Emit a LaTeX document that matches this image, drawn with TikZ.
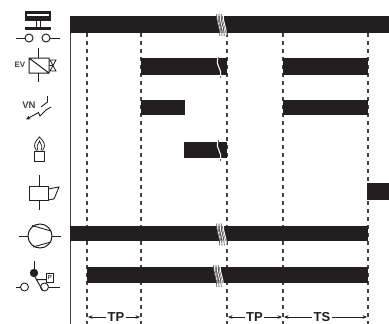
\documentclass[tikz,border=0pt]{standalone}
\usepackage{fontspec}
\setmainfont{Liberation Sans}
\usetikzlibrary{arrows.meta}
\definecolor{ink}{HTML}{231F20}
\tikzset{
  x=1pt,y=-1pt,
  icon/.style={draw=ink,line width=1pt},
  thick line/.style={draw=ink!85,line width=1.4pt},
  timing/.style={draw=ink!85,line width=1.2pt,dash pattern=on 4pt off 4pt},
  bar/.style={fill=ink,draw=none},
  lab/.style={font=\bfseries\fontsize{13}{13}\selectfont,text=ink,inner sep=0pt},
  small/.style={font=\bfseries\fontsize{8}{9}\selectfont,text=ink!85,inner sep=0pt},
  span/.style={draw=ink,line width=0.9pt,-{Stealth[length=4.5pt,width=3.6pt]}}
}
\begin{document}
\begin{tikzpicture}
\useasboundingbox (0,0) rectangle (389,324);
% timing lines
\draw[thick line] (70.5,16) -- (70.5,324);
\foreach \x in {87,141,227,283,368} \draw[timing] (\x,33) -- (\x,324);
% bars
\fill[bar] (70,16) rectangle (389,33);
\fill[bar] (141,58) rectangle (227,75);
\fill[bar] (283,58) rectangle (368,75);
\fill[bar] (141,100) rectangle (185,115);
\fill[bar] (283,100) rectangle (368,115);
\fill[bar] (184,142) rectangle (227,158);
\fill[bar] (367,183) rectangle (389,200);
\fill[bar] (70,226) rectangle (368,241);
\fill[bar] (87,267) rectangle (368,283);
% multi-line breaks
\foreach \cx/\cy in {216.5/14,216.5/223.5,213.5/265}{
  \foreach \d in {0,1.5,3,4.5,6}
    \draw[white,line width=1pt] (\cx+\d+.75,\cy+1) .. controls +(0,10) and +(0,-10) .. +(3,20);
  \foreach \d in {0,2.25,4.5}
    \draw[ink!80,line width=0.7pt] (\cx+\d+.2,\cy) .. controls +(0,11) and +(0,-11) .. +(3,22);
}
% single breaks
\foreach \cx/\cy in {218/57,218/140}{
  \draw[white,line width=1.1pt] (\cx,\cy+1) .. controls +(-3,9) and +(3,-9) .. +(2,19);
  \draw[ink!70,line width=0.5pt] (\cx,\cy-.5) -- +(0,2) (\cx+2,\cy+18.5) -- +(0,2);
}
% door / contact icon
\fill[ink] (25,11) rectangle (51,21);
\fill[white] (27,13.5) rectangle (49,15.5);
\draw[icon] (36,21) -- (36,27) (40,21) -- (40,27);
\fill[ink] (25,27) rectangle (51,30);
\draw[icon] (29,38) circle (4) (46,38) circle (4);
\draw[icon] (16,38) -- (25,38) (50,38) -- (60,38);
% EV
\draw[icon] (38,48) -- (38,58) (38,73) -- (38,82);
\draw[icon] (29,58) rectangle (49,73) (29,58) -- (49,73);
\draw[icon,line width=.8pt] (49,65.5) -- (53,65.5) (50,60) -- (56,60) -- (50,71) -- (56,71) -- cycle;
\node[small] (ev) at (20,65) {EV};
% VN
\node[small,font=\bfseries\fontsize{9.5}{10}\selectfont] (vn) at (29,105) {VN};
\draw[icon,line width=.9pt] (47.5,96) -- (47.5,102) -- (41,107);
\draw[icon,line width=.9pt,-{Stealth[length=4.5pt,width=4pt]}] (51,107) -- (46,110) -- (40,116) -- (38.5,112.5) -- (26,119.5);
% candle
\draw[icon,line width=.9pt] (34.5,151) rectangle (44.5,161);
\draw[icon,line width=.8pt] (36.5,150.5) .. controls (32,144) and (36,141) .. (39.5,137) .. controls (43,141) and (47,144) .. (42.5,150.5);
\draw[icon,line width=.7pt] (38,150.5) .. controls (36,146) and (38,144) .. (39.5,141) .. controls (41,144) and (43,146) .. (41,150.5);
% valve box
\draw[icon] (29,186) rectangle (48,200);
\draw[icon] (39,175) -- (39,186) (39,200) -- (39,210);
\draw[icon,line width=.9pt] (48,189) -- (59,187) -- (54,199) -- (48,200);
% compressor
\draw[icon] (40,236) circle (12);
\draw[icon] (19,236) -- (28,236) (52,236) -- (61,236);
\draw[icon,line width=.9pt] (32,225.5) -- (51,231) (33,247) -- (51,242);
% pressure switch
\fill[ink] (34,273) circle (4.2);
\draw[icon] (34,261) -- (34,270);
\draw[icon] (35,277) -- (43,291) (36,279.5) -- (46,279.5);
\draw[icon,line width=.9pt] (24.5,287) circle (4) (44.5,287) circle (4);
\draw[icon,line width=.9pt] (16,287) -- (20.5,287) (48.5,287) -- (60,287);
\draw[icon,line width=.8pt] (46,273) rectangle (53.5,282);
\node[small,font=\bfseries\fontsize{6}{7}\selectfont] (p) at (49.8,277.6) {P};
% spans
\coordinate (a) at (88,317);
\coordinate (b) at (140,317);
\coordinate (c) at (228,317);
\coordinate (d) at (282,317);
\coordinate (e) at (284,317);
\coordinate (f) at (367,317);
\node[lab,fill=white,inner xsep=1pt] (tp1) at (116,317) {TP};
\node[lab,fill=white,inner xsep=1pt] (tp2) at (254.5,317) {TP};
\node[lab,fill=white,inner xsep=1pt] (ts) at (322,317) {TS};
\draw[span] (tp1) -- (a);
\draw[span] (tp1) -- (b);
\draw[span] (tp2) -- (c);
\draw[span] (tp2) -- (d);
\draw[span] (ts) -- (e);
\draw[span] (ts) -- (f);
\end{tikzpicture}
\end{document}
